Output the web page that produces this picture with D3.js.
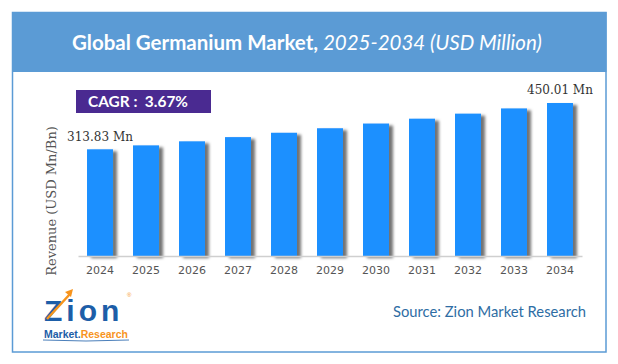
<!DOCTYPE html>
<html>
<head>
<meta charset="utf-8">
<script src="https://cdn.jsdelivr.net/npm/d3@7"></script>
<style>
  body { margin: 0; background: #fff; }
  svg { display: block; }
</style>
</head>
<body>
<div id="chart"></div>
<script>
// data
const YEARS = ["2024","2025","2026","2027","2028","2029","2030","2031","2032","2033","2034"];
const REVENUE = [313.83, 325.4, 337.3, 349.7, 362.5, 375.8, 389.6, 403.9, 418.7, 434.1, 450.01];
const LABELLED = ["2024", "2034"];   // only first and last bars get a value
const TITLE_BOLD = "Global Germanium Market,";
const TITLE_REST = " 2025-2034 (USD Million)";
const CAGR = "CAGR :  3.67%";
const Y_LABEL = "Revenue (USD Mn/Bn)";
const SOURCE = "Source: Zion Market Research";

var width = 618, height = 364;
var BLUE = "#5b9bd5";

var svg = d3.select("#chart").append("svg")
    .attr("width", width).attr("height", height);

// shadow on the bars
var defs = svg.append("defs");
var f = defs.append("filter").attr("id", "shadow")
    .attr("x", "-20%").attr("y", "-10%").attr("width", "160%").attr("height", "130%");
f.append("feDropShadow").attr("dx", 4).attr("dy", 2)
    .attr("stdDeviation", 1.6).attr("flood-color", "#000").attr("flood-opacity", 0.55);

// scale font so that a text fills a given width
function fit(sel, target) {
  var fs = parseFloat(sel.attr("font-size"));
  var w = sel.node().getComputedTextLength();
  sel.attr("font-size", fs * target / w);
}

// frame + title bar
svg.append("rect").attr("x", 12.5).attr("y", 12.5).attr("width", 593.5).attr("height", 339.5)
    .attr("fill", "none").attr("stroke", BLUE).attr("stroke-width", 1.5);
svg.append("rect").attr("x", 12).attr("y", 12).attr("width", 594.5).attr("height", 60)
    .attr("fill", BLUE);

var title = svg.append("text").attr("x", 72).attr("y", 50)
    .attr("font-family", "Lato, 'Open Sans', sans-serif").attr("font-size", 21).attr("fill", "#fff");
title.append("tspan").attr("font-weight", "bold").text(TITLE_BOLD);
title.append("tspan").attr("font-style", "italic").text(TITLE_REST);
fit(title, 470);

// cagr box
svg.append("rect").attr("x", 76).attr("y", 90).attr("width", 135).attr("height", 23)
    .attr("fill", "#4a2a91");
var cagr = svg.append("text").attr("x", 88).attr("y", 107)
    .attr("font-family", "Lato, 'Open Sans', sans-serif").attr("font-weight", "bold")
    .attr("font-size", 15).attr("fill", "#fff").attr("xml:space", "preserve").text(CAGR);
fit(cagr, 100);

// scales
var x = d3.scaleBand().domain(YEARS).range([78, 582])
    .paddingInner(0.435).paddingOuter(0.196);
var y = d3.scaleLinear().domain([0, 500]).range([256, 86]);

var xAxis = d3.axisBottom(x).tickSize(0).tickPadding(10);

svg.append("g").selectAll(".bar")
    .data(YEARS)
  .enter().append("rect")
    .attr("class", "bar")
    .attr("x", function(d) { return x(d); })
    .attr("y", function(d, i) { return y(REVENUE[i]); })
    .attr("width", x.bandwidth())
    .attr("height", function(d, i) { return y(0) - y(REVENUE[i]); })
    .attr("fill", "#1e90ff")
    .attr("filter", "url(#shadow)");

var gx = svg.append("g").attr("transform", "translate(0," + y(0) + ")").call(xAxis);
gx.select(".domain").attr("stroke", "#cfcfcf").attr("stroke-width", 1.5);
gx.selectAll("text").attr("font-family", "'DejaVu Sans', Verdana, sans-serif")
    .attr("font-size", 11).attr("fill", "#555");

// value labels
svg.append("g").selectAll("text")
    .data(YEARS.filter(function(d) { return LABELLED.includes(d); }))
  .enter().append("text")
    .attr("x", function(d) { return x(d) + x.bandwidth() / 2; })
    .attr("y", function(d) { return y(REVENUE[YEARS.indexOf(d)]) - 8.5; })
    .attr("text-anchor", "middle")
    .attr("font-family", "'DejaVu Serif', serif").attr("font-size", 12).attr("fill", "#333")
    .text(function(d) { return REVENUE[YEARS.indexOf(d)].toFixed(2) + " Mn"; });

// y label
svg.append("text")
    .attr("transform", "translate(56,201) rotate(-90)")
    .attr("text-anchor", "middle")
    .attr("font-family", "'DejaVu Serif', serif").attr("font-size", 13).attr("fill", "#555")
    .text(Y_LABEL);

// source
var src = svg.append("text").attr("x", 393).attr("y", 317)
    .attr("font-family", "Lato, 'Open Sans', sans-serif").attr("font-size", 15)
    .attr("fill", "#2e6da4").text(SOURCE);
fit(src, 193);

// logo (rough)
var logo = svg.append("g");
logo.append("text").attr("x", 44).attr("y", 321)
    .attr("font-family", "'Liberation Sans', Arial, sans-serif").attr("font-weight", "bold")
    .attr("font-size", 30).attr("letter-spacing", 4).attr("fill", "#1d5ea8").text("Zion");
logo.append("line").attr("x1", 47).attr("y1", 319).attr("x2", 70).attr("y2", 294)
    .attr("stroke", "#f7941d").attr("stroke-width", 2.5);
logo.append("path").attr("d", "M65,292 L73,289 L71,297 Z").attr("fill", "#f7941d");
logo.append("text").attr("x", 127).attr("y", 297)
    .attr("font-family", "'Liberation Sans', Arial, sans-serif").attr("font-size", 6)
    .attr("fill", "#f7941d").text("®");
var mr = logo.append("text").attr("x", 44).attr("y", 337.5)
    .attr("font-family", "'Liberation Sans', Arial, sans-serif").attr("font-weight", "bold")
    .attr("font-size", 9);
mr.append("tspan").attr("fill", "#1d5ea8").text("Market.");
mr.append("tspan").attr("fill", "#f7941d").text("Research");
fit(mr, 84);
logo.append("path").attr("d", "M43,340 Q86,342 129,340")
    .attr("fill", "none").attr("stroke", "#1d5ea8").attr("stroke-width", 0.8);
</script>
</body>
</html>
